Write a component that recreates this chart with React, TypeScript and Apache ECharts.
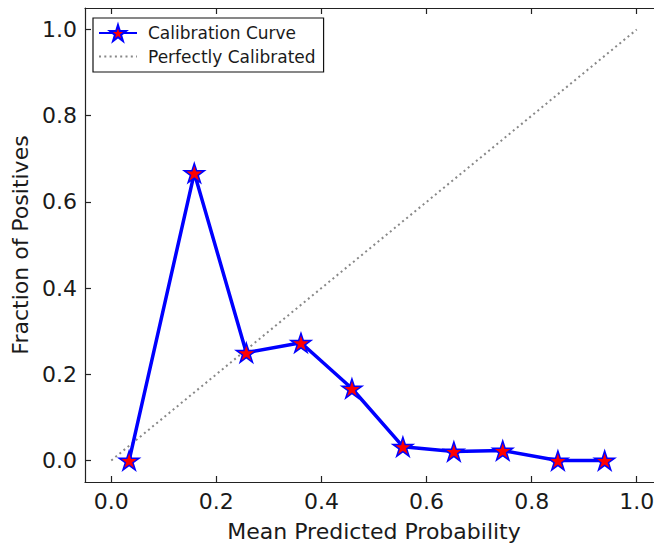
import React, { useEffect, useRef } from "react";
import * as echarts from "echarts";

const meanPredicted = [0.034, 0.158, 0.257, 0.361, 0.458, 0.555, 0.652, 0.745, 0.85, 0.939];
const fractionPositives = [0.0, 0.667, 0.25, 0.273, 0.167, 0.032, 0.021, 0.023, 0.0, 0.0];
const perfectX = [0, 1];
const perfectY = [0, 1];
const tickValues = [0, 0.2, 0.4, 0.6, 0.8, 1.0];

const STAR =
  "path://M0,-1 L0.2245,-0.309 L0.951,-0.309 L0.363,0.118 L0.588,0.809 L0,0.382 L-0.588,0.809 L-0.363,0.118 L-0.951,-0.309 L-0.2245,-0.309 Z";

const FONT = "DejaVu Sans";
const AX = "#222";

export default function App() {
  const ref = useRef<HTMLDivElement>(null);
  useEffect(() => {
    if (!ref.current) return;
    const chart = echarts.init(ref.current, undefined, { renderer: "svg" });
    const axisCommon = (pos: string, showLabel: boolean) => ({
      type: "value",
      position: pos,
      min: -0.05,
      max: 1.05,
      splitLine: { show: false },
      axisLine: { show: true, onZero: false, lineStyle: { color: AX, width: 1.2 } },
      axisTick: { show: true, inside: true, length: 6, customValues: tickValues, lineStyle: { color: AX, width: 1.2 } },
      axisLabel: {
        show: showLabel,
        customValues: tickValues,
        formatter: (v: number) => v.toFixed(1),
        fontFamily: FONT,
        fontSize: 22,
        color: "#1a1a1a",
        margin: 8,
      },
    });
    chart.setOption({
      animation: false,
      grid: { left: 85, top: 8, width: 578, height: 480 },
      legend: {
        orient: "vertical",
        left: 93,
        top: 18,
        padding: [6, 8, 7, 5],
        itemGap: 6,
        itemWidth: 38,
        itemHeight: 20,
        borderColor: "#111",
        borderWidth: 1.2,
        borderRadius: 0,
        backgroundColor: "#fff",
        textStyle: { fontFamily: FONT, fontSize: 17, color: "#1a1a1a", padding: [0, 0, 0, 6] },
        data: [
          { name: "Calibration Curve" },
          { name: "Perfectly Calibrated", itemStyle: { opacity: 0 } },
        ],
      },
      xAxis: [
        {
          ...axisCommon("bottom", true),
          name: "Mean Predicted Probability",
          nameLocation: "middle",
          nameGap: 38,
          nameTextStyle: { fontFamily: FONT, fontSize: 22, color: "#1a1a1a" },
        },
        axisCommon("top", false),
      ],
      yAxis: [
        {
          ...axisCommon("left", true),
          name: "Fraction of Positives",
          nameLocation: "middle",
          nameGap: 52,
          nameTextStyle: { fontFamily: FONT, fontSize: 22, color: "#1a1a1a" },
        },
        axisCommon("right", false),
      ],
      series: [
        {
          name: "Calibration Curve",
          type: "line",
          z: 3,
          data: meanPredicted.map((x, i) => [x, fractionPositives[i]]),
          symbol: STAR,
          symbolSize: 20,
          symbolKeepAspect: true,
          itemStyle: { color: "#ff0000", borderColor: "#0000ff", borderWidth: 1.5 },
          lineStyle: { color: "#0000ff", width: 3.5 },
        },
        {
          name: "Perfectly Calibrated",
          type: "line",
          z: 2,
          data: perfectX.map((x, i) => [x, perfectY[i]]),
          symbol: "none",
          itemStyle: { color: "#888888" },
          lineStyle: { color: "#888888", width: 2, type: [2, 3.3] },
        },
      ],
    });
    return () => chart.dispose();
  }, []);
  return (
    <div style={{ position: "fixed", left: 0, top: 0, width: 654, height: 547, overflow: "hidden", background: "#fff" }}>
      <div ref={ref} style={{ width: 680, height: 547 }} />
    </div>
  );
}
